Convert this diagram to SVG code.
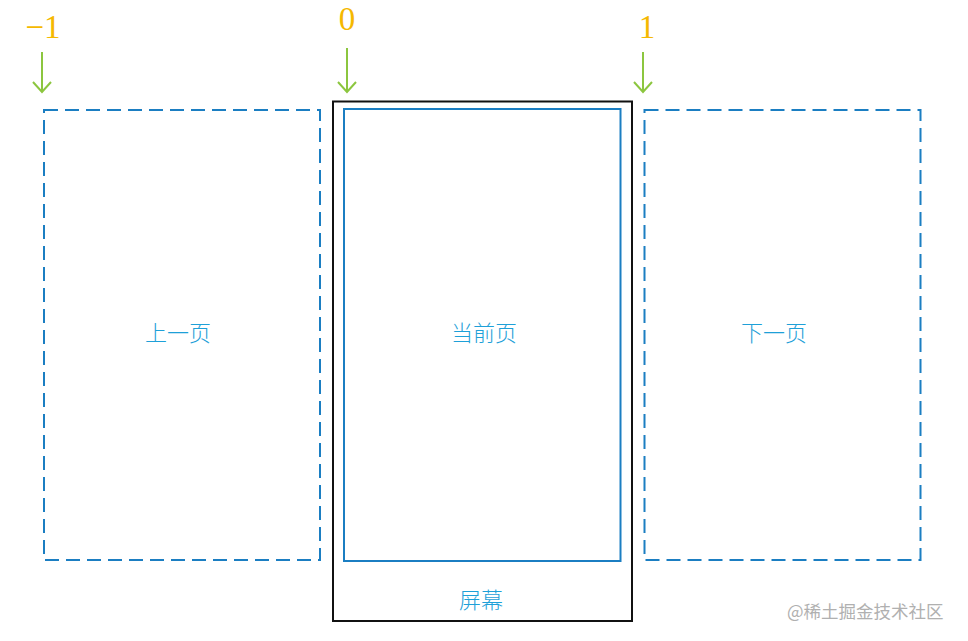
<svg xmlns="http://www.w3.org/2000/svg" width="968" height="641" viewBox="0 0 968 641">
<defs>
<style>
.dash{fill:none;stroke:#1b7ec2;stroke-width:2;stroke-dasharray:14 7}
.solid{fill:none;stroke:#1b7ec2;stroke-width:2}
.frame{fill:none;stroke:#111;stroke-width:2}
.lbl{font-family:"Noto Sans CJK SC","Noto Sans CJK JP",sans-serif;font-size:22px;font-weight:300;fill:#1ea0d8;text-anchor:middle}
.num{font-family:"Liberation Serif",serif;font-size:33px;fill:#f5b800;text-anchor:middle}
.arr{stroke:#8cc63f;stroke-width:2;fill:none}
.wm{font-family:"Noto Sans CJK SC",sans-serif;font-size:17.5px;fill:#b0b0b0}
</style>
</defs>
<rect width="968" height="641" fill="#fff"/>
<g id="prev">
<rect class="dash" x="44" y="110" width="276" height="450"/>
<text class="lbl" x="178" y="341">上一页</text>
</g>
<g id="screen">
<rect class="frame" x="333" y="101.5" width="299" height="519.5"/>
<text class="lbl" x="481" y="608">屏幕</text>
</g>
<g id="current">
<rect class="solid" x="344" y="109" width="276.5" height="452"/>
<text class="lbl" x="484" y="341">当前页</text>
</g>
<g id="next">
<rect class="dash" x="644.5" y="110" width="276" height="450"/>
<text class="lbl" x="774" y="341">下一页</text>
</g>
<g id="labels">
<text class="num" x="43" y="38">−1</text>
<text class="num" x="347" y="30">0</text>
<text class="num" x="647" y="38">1</text>
</g>
<g id="connectors">
<path class="arr" d="M42 52V92M33 82L42 92L51 82"/>
<path class="arr" d="M347 48V92M338 82L347 92L356 82"/>
<path class="arr" d="M643 52V92M634 82L643 92L652 82"/>
</g>
<text class="wm" x="787" y="618">@稀土掘金技术社区</text>
</svg>
